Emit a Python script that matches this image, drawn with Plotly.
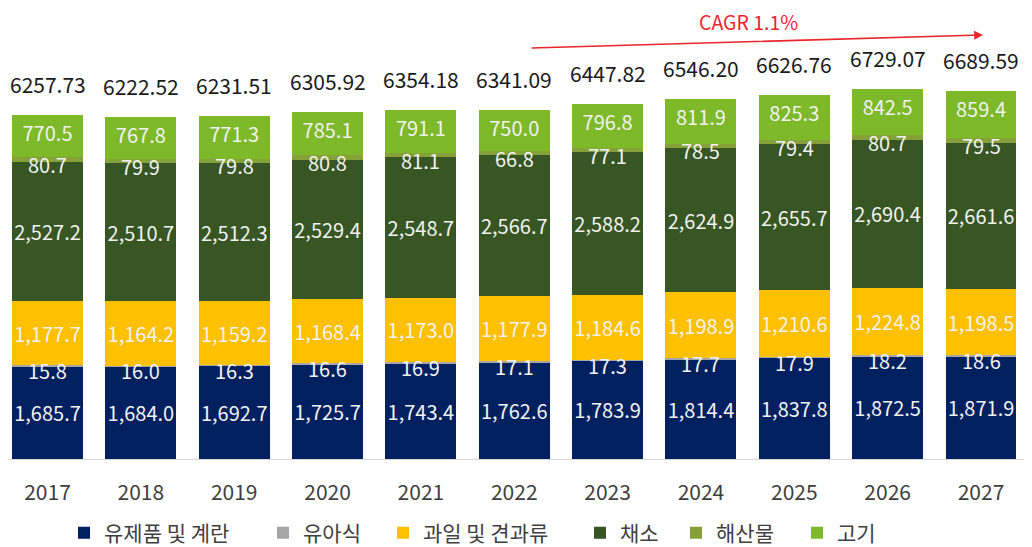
import plotly.graph_objects as go

years = ["2017", "2018", "2019", "2020", "2021", "2022", "2023", "2024", "2025", "2026", "2027"]
dairy = [1685.7, 1684.0, 1692.7, 1725.7, 1743.4, 1762.6, 1783.9, 1814.4, 1837.8, 1872.5, 1871.9]
baby = [15.8, 16.0, 16.3, 16.6, 16.9, 17.1, 17.3, 17.7, 17.9, 18.2, 18.6]
fruit = [1177.7, 1164.2, 1159.2, 1168.4, 1173.0, 1177.9, 1184.6, 1198.9, 1210.6, 1224.8, 1198.5]
veg = [2527.2, 2510.7, 2512.3, 2529.4, 2548.7, 2566.7, 2588.2, 2624.9, 2655.7, 2690.4, 2661.6]
seafood = [80.7, 79.9, 79.8, 80.8, 81.1, 66.8, 77.1, 78.5, 79.4, 80.7, 79.5]
meat = [770.5, 767.8, 771.3, 785.1, 791.1, 750.0, 796.8, 811.9, 825.3, 842.5, 859.4]
totals = [6257.73, 6222.52, 6231.51, 6305.92, 6354.18, 6341.09, 6447.82, 6546.20, 6626.76, 6729.07, 6689.59]

series_names = ["유제품 및 계란", "유아식", "과일 및 견과류", "채소", "해산물", "고기"]
series_values = [dairy, baby, fruit, veg, seafood, meat]
colors = ["#002060", "#A5A5A5", "#FFC000", "#375623", "#86A03A", "#7DB928"]
label_anchor = ["middle", "middle", "middle", "middle", "middle", "end"]
small_series = [False, True, False, False, True, False]   # labelled on a top text layer

FONT = "Noto Sans CJK KR"
LABEL_FONT = dict(family=FONT, size=20, color="#F2F2F2")

# figure geometry (pixels). The page body has an 8px margin, so the
# figure's origin sits at (8, 8) in the browser window.
OX, OY = 8, 8
W, H = 1032, 547
ML, MR, MT, MB = 0, 8, 0, 96
PW, PH = W - ML - MR, H - MT - MB
CAT_PX = 93.35                      # pixel width of one category slot
X0 = -(47.5 - OX - ML) / CAT_PX     # so the first bar centre lands at x=47.5
X1 = X0 + PW / CAT_PX


def px_x(px):
    return (px - OX - ML) / PW


def px_y(py):
    return 1 - (py - OY - MT) / PH


fig = go.Figure()
legend_left_px = [64, 263, 383, 580, 676, 797]
legend_ids = ["legend", "legend2", "legend3", "legend4", "legend5", "legend6"]
for name, vals, col, lid, anc, small in zip(series_names, series_values, colors,
                                            legend_ids, label_anchor, small_series):
    fig.add_trace(go.Bar(
        x=years, y=vals, name=name, legend=lid,
        marker=dict(color=col, line=dict(width=0)),
        texttemplate=None if small else "%{y:,.1f}",
        textposition="none" if small else "inside",
        insidetextanchor=anc,
        constraintext="none",
        textangle=0,
        textfont=LABEL_FONT,
        hoverinfo="x+y+name",
    ))

# labels of the thin segments, drawn above all bars at each segment's middle
base = [0.0] * len(years)
for name, vals, small in zip(series_names, series_values, small_series):
    if small:
        for i, (b, v) in enumerate(zip(base, vals)):
            fig.add_annotation(x=i, y=b + v / 2, xref="x", yref="y",
                               text=f"{v:,.1f}", showarrow=False, yshift=-5,
                               xanchor="center", yanchor="middle", font=LABEL_FONT)
    base = [b + v for b, v in zip(base, vals)]

# total labels above each stack (category index positions)
for i, t in enumerate(totals):
    fig.add_annotation(x=i, y=t, xref="x", yref="y", text=f"{t:.2f}",
                       showarrow=False, yshift=31,
                       font=dict(family=FONT, size=21, color="#1a1a1a"))

# CAGR arrow
fig.add_annotation(x=px_x(983), y=px_y(35), xref="paper", yref="paper",
                   ax=-453, ay=13, axref="pixel", ayref="pixel",
                   showarrow=True, arrowhead=2, arrowsize=1.1, arrowwidth=1.6,
                   arrowcolor="#E8262B", text="")
fig.add_annotation(x=px_x(748), y=px_y(21.5), xref="paper", yref="paper",
                   xanchor="center", yanchor="middle",
                   text="CAGR 1.1%", showarrow=False,
                   font=dict(family=FONT, size=19.5, color="#E8262B"))

layout_legends = {}
for lid, lx in zip(legend_ids, legend_left_px):
    layout_legends[lid] = dict(
        orientation="h", x=px_x(lx), xanchor="left",
        y=px_y(533), yanchor="middle",
        font=dict(family=FONT, size=21, color="#404040"),
        itemwidth=30, bgcolor="rgba(0,0,0,0)",
    )

fig.update_layout(
    barmode="stack",
    bargap=0.24,
    width=W, height=H,
    margin=dict(l=ML, r=MR, t=MT, b=MB, autoexpand=False),
    paper_bgcolor="white", plot_bgcolor="white",
    font=dict(family=FONT, size=18, color="#404040"),
    showlegend=True,
    xaxis=dict(type="category", range=[X0, X1], showgrid=False,
               showline=True, linecolor="#D9D9D9",
               linewidth=1, ticks="", ticklabelstandoff=15,
               tickfont=dict(family=FONT, size=21, color="#404040")),
    yaxis=dict(range=[0, PH / 0.055], visible=False, showgrid=False),
    **layout_legends,
)

fig.write_html("out.html")
